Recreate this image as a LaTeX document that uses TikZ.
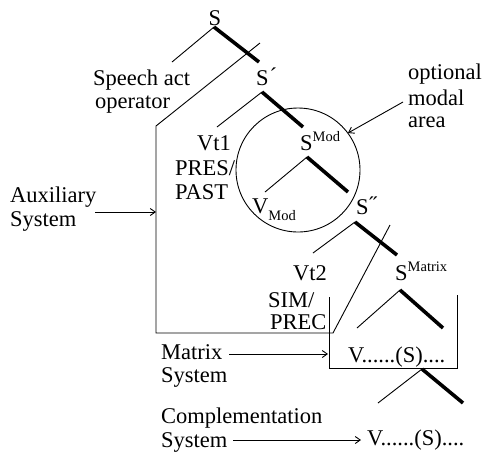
\documentclass[tikz,border=0pt]{standalone}
\usepackage{fontspec}
\setmainfont{Liberation Serif}
\usetikzlibrary{arrows.meta}
\newcommand\supx[1]{\raisebox{9pt}{\fontsize{14.5}{15}\selectfont #1}}
\newcommand\subx[1]{\raisebox{-7pt}{\fontsize{14.5}{15}\selectfont #1}}
\begin{document}
\begin{tikzpicture}[x=1pt,y=-1pt,
  lbl/.style={inner sep=0pt, font=\fontsize{22.5}{24}\selectfont},
  tbranch/.style={line width=0.9pt},
  kbranch/.style={line width=3.6pt},
  frame/.style={line width=0.9pt},
  arr/.style={line width=0.9pt,-{Straight Barb[length=5pt,width=7pt]}}]
\useasboundingbox (0,0) rectangle (485,451);
% ---------- labels
\node[lbl,anchor=base] (s) at (215,25) {S};
\node[lbl,anchor=base west] (sa1) at (93,85) {Speech act};
\node[lbl,anchor=base west] (sa2) at (95,108) {operator};
\node[lbl,anchor=base west] (s1) at (256,85) {S\kern1pt\raisebox{2pt}{´}};
\node[lbl,anchor=base east] (vt1) at (231,150) {Vt1};
\node[lbl,anchor=base west] (pres) at (175,175) {PRES/};
\node[lbl,anchor=base west] (past) at (175,199) {PAST};
\node[lbl,anchor=base west] (smod) at (300,150) {S\supx{Mod}};
\node[lbl,anchor=base west] (vmod) at (252,213) {V\subx{Mod}};
\node[lbl,anchor=base west] (s2) at (356,214) {S\kern1pt\raisebox{2pt}{˝}};
\node[lbl,anchor=base east] (vt2) at (327,280) {Vt2};
\node[lbl,anchor=base west] (sim) at (268,307) {SIM/};
\node[lbl,anchor=base west] (prec) at (270,329) {PREC};
\node[lbl,anchor=base west] (smat) at (395,280) {S\supx{Matrix}};
\node[lbl,anchor=base west] (vs1) at (348,362) {V......(S)....};
\node[lbl,anchor=base west] (vs2) at (367,445) {V......(S)....};
\node[lbl,anchor=base west] (om1) at (408,79) {optional};
\node[lbl,anchor=base west] (om2) at (408,105) {modal};
\node[lbl,anchor=base west] (om3) at (408,127) {area};
\node[lbl,anchor=base west] (ax1) at (10,202) {Auxiliary};
\node[lbl,anchor=base west] (ax2) at (10,226) {System};
\node[lbl,anchor=base west] (mx1) at (161,359) {Matrix};
\node[lbl,anchor=base west] (mx2) at (161,382) {System};
\node[lbl,anchor=base west] (cp1) at (161,423) {Complementation};
\node[lbl,anchor=base west] (cp2) at (161,447) {System};
% ---------- tree coordinates
\coordinate (a0) at (214,27);  \coordinate (a0l) at (172,62);  \coordinate (a0r) at (259,62);
\coordinate (a1) at (262,92);  \coordinate (a1l) at (217,127); \coordinate (a1r) at (303,127);
\coordinate (a2) at (307,157); \coordinate (a2l) at (265,192); \coordinate (a2r) at (348,192);
\coordinate (a3) at (355,222); \coordinate (a3l) at (313,253); \coordinate (a3r) at (397,255);
\coordinate (a4) at (400,290); \coordinate (a4l) at (357,328); \coordinate (a4r) at (443,328);
\coordinate (a5) at (422,369); \coordinate (a5l) at (378,403); \coordinate (a5r) at (463,403);
\foreach \n in {0,...,5}{
  \draw[tbranch] (a\n) -- (a\n l);
  \draw[kbranch] (a\n) -- (a\n r);
}
% ---------- system frames
\coordinate (p1) at (260,43); \coordinate (p2) at (156,126); \coordinate (p3) at (156,333);
\coordinate (p4) at (333,333); \coordinate (p5) at (390,225);
\draw[frame] (p1) -- (p2) -- (p3) -- (p4) -- (p5);
\coordinate (b1) at (329,297); \coordinate (b2) at (329,368);
\coordinate (b3) at (457,368); \coordinate (b4) at (457,295);
\draw[frame] (b1) -- (b2) -- (b3) -- (b4);
\node[draw,circle,frame,minimum size=124pt,inner sep=0pt] (modal) at (298,170) {};
% ---------- arrows
\coordinate (axs) at (95,212);  \coordinate (axe) at (156,212);
\coordinate (mxs) at (229,354); \coordinate (mxe) at (328,354);
\coordinate (cps) at (233,440); \coordinate (cpe) at (361,440);
\coordinate (oms) at (403,102); \coordinate (ome) at (348,133);
\draw[arr] (axs) -- (axe);
\draw[arr] (mxs) -- (mxe);
\draw[arr] (cps) -- (cpe);
\draw[arr] (oms) -- (ome);
\end{tikzpicture}
\end{document}
